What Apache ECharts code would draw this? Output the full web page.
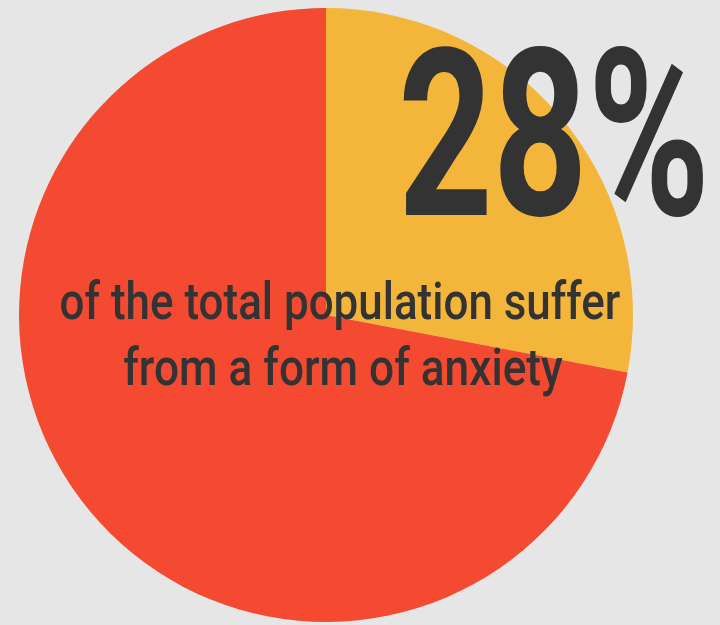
<!DOCTYPE html>
<html>
<head>
<meta charset="utf-8">
<script src="https://cdn.jsdelivr.net/npm/echarts@6/dist/echarts.min.js"></script>
<style>
html, body { margin: 0; padding: 0; background: #e6e6e6; }
#chart { width: 720px; height: 625px; }
</style>
</head>
<body>
<div id="chart"></div>
<script type="text/javascript">
// share of population with / without anxiety
var categories = ['anxiety', 'other'];
var values = [28, 72];
var colors = ['#f4b63a', '#f34a31'];
var bigLabel = '28%';
var lines = ['of the total population suffer', 'from a form of anxiety'];

var myChart = echarts.init(document.getElementById('chart'));
var option = {
    backgroundColor: '#e6e6e6',
    animation: false,
    series: [{
        type: 'pie',
        center: [326, 315],
        radius: 307,
        startAngle: 90,
        clockwise: true,
        label: { show: false },
        labelLine: { show: false },
        emphasis: { disabled: true },
        data: categories.map(function (c, i) {
            return { name: c, value: values[i], itemStyle: { color: colors[i] } };
        })
    }],
    graphic: [
        {
            type: 'text', x: 554, y: 273, scaleX: 0.71, z: 10,
            style: {
                text: bigLabel, fill: '#333333',
                font: 'bold 233px Roboto',
                align: 'center', verticalAlign: 'bottom'
            }
        },
        {
            type: 'text', x: 340, y: 332, scaleX: 0.845, z: 10,
            style: {
                text: lines[0], fill: '#333333',
                font: '500 52px Roboto',
                align: 'center', verticalAlign: 'bottom'
            }
        },
        {
            type: 'text', x: 343, y: 398, scaleX: 0.85, z: 10,
            style: {
                text: lines[1], fill: '#333333',
                font: '500 52px Roboto',
                align: 'center', verticalAlign: 'bottom'
            }
        }
    ]
};
myChart.setOption(option);
</script>
</body>
</html>
